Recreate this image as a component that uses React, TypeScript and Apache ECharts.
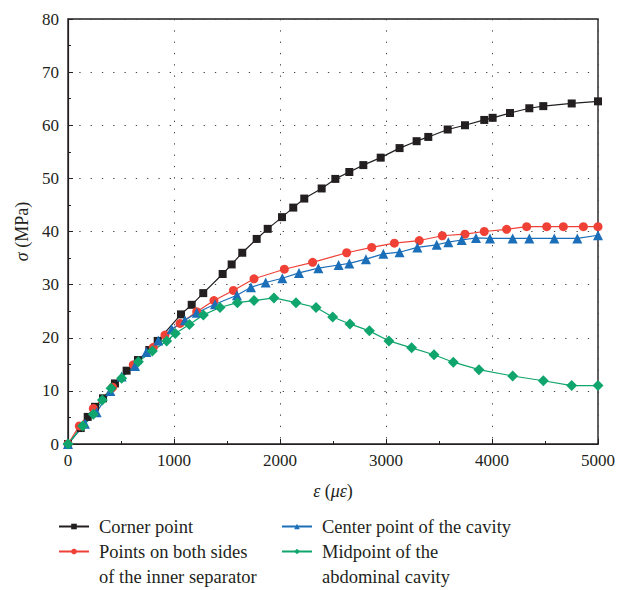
import React, { useEffect, useRef } from "react";
import * as echarts from "echarts";

const cornerX = [0, 120, 186, 255, 330, 443, 553, 660, 767, 846, 1066, 1167, 1276, 1459, 1544, 1644, 1780, 1884, 2019, 2125, 2229, 2393, 2522, 2654, 2786, 2950, 3128, 3289, 3399, 3582, 3745, 3927, 4006, 4170, 4352, 4484, 4752, 5000];
const cornerY = [0, 3.0, 5.1, 7.0, 8.6, 11.4, 13.8, 15.8, 17.7, 19.4, 24.4, 26.2, 28.4, 32.0, 33.8, 36.0, 38.6, 40.5, 42.7, 44.5, 46.2, 48.1, 49.9, 51.2, 52.5, 53.9, 55.7, 57.0, 57.8, 59.2, 60.0, 61.0, 61.4, 62.3, 63.2, 63.6, 64.1, 64.5];

const sidesX = [0, 107, 239, 421, 616, 805, 915, 1057, 1214, 1377, 1560, 1755, 2041, 2308, 2629, 2865, 3079, 3314, 3531, 3745, 3927, 4138, 4327, 4516, 4673, 4862, 5000];
const sidesY = [0, 3.4, 6.7, 10.7, 14.9, 18.2, 20.5, 22.7, 24.9, 27.0, 28.9, 31.1, 32.9, 34.2, 36.0, 37.0, 37.8, 38.3, 39.2, 39.5, 40.0, 40.4, 40.9, 40.9, 40.9, 40.9, 40.9];

const centerX = [0, 160, 270, 400, 506, 632, 740, 852, 978, 1104, 1214, 1387, 1594, 1726, 1865, 2022, 2179, 2362, 2553, 2654, 2811, 2975, 3128, 3296, 3478, 3588, 3714, 3849, 3981, 4195, 4352, 4588, 4805, 5000];
const centerY = [0, 3.8, 6.0, 10.0, 12.7, 14.7, 17.3, 19.5, 21.6, 23.3, 24.7, 26.3, 28.0, 29.5, 30.4, 31.2, 32.2, 33.1, 33.7, 34.0, 34.8, 35.8, 36.1, 37.0, 37.5, 38.0, 38.4, 38.8, 38.7, 38.7, 38.7, 38.7, 38.7, 39.3];

const midX = [0, 138, 239, 324, 406, 506, 664, 796, 931, 1012, 1145, 1277, 1434, 1598, 1755, 1943, 2151, 2340, 2497, 2660, 2843, 3028, 3242, 3453, 3635, 3877, 4195, 4484, 4752, 5000];
const midY = [0, 3.4, 5.6, 8.3, 10.5, 12.4, 15.5, 17.5, 19.4, 20.8, 22.5, 24.3, 25.7, 26.6, 27.0, 27.5, 26.6, 25.7, 23.9, 22.6, 21.3, 19.4, 18.1, 16.8, 15.4, 14.0, 12.8, 11.9, 11.0, 11.0];

const NAME_CORNER = "Corner point";
const NAME_SIDES = "Points on both sides\nof the inner separator";
const NAME_CENTER = "Center point of the cavity";
const NAME_MID = "Midpoint of the\nabdominal cavity";

const FONT = "Liberation Serif";

const zip = (xs: number[], ys: number[]) => xs.map((x, i) => [x, ys[i]]);

export default function App() {
  const ref = useRef<HTMLDivElement>(null);
  useEffect(() => {
    if (!ref.current) return;
    const chart = echarts.init(ref.current, null, { renderer: "svg" });
    const split = { show: true, lineStyle: { color: "#444", width: 1, type: [1.3, 10] as any } };
    const legendBase = (name: string, left: number, twoLine: boolean) => ({
      data: [name],
      left,
      top: 514,
      padding: 0,
      itemWidth: 30,
      itemHeight: 7,
      orient: "vertical",
      formatter: (n: string) => (twoLine ? "\n" + n : n),
      textStyle: {
        fontFamily: FONT,
        fontSize: 18.5,
        color: "#231f20",
        lineHeight: 25,
        padding: [0, 0, 0, 5],
      },
    });
    const mk = (name: string, xs: number[], ys: number[], color: string, symbol: string, size: number) => ({
      name,
      type: "line",
      data: zip(xs, ys),
      symbol,
      symbolSize: size,
      lineStyle: { color, width: 1.2 },
      itemStyle: { color },
      showSymbol: true,
    });
    const axisName = { fontFamily: FONT, fontSize: 18, color: "#231f20", rich: { i: { fontFamily: FONT, fontSize: 18, fontStyle: "italic", color: "#231f20" } } };
    chart.setOption({
      animation: false,
      grid: { left: 68, right: 20, top: 19, bottom: 146, show: true, borderColor: "#231f20", borderWidth: 1.4, backgroundColor: "transparent" },
      xAxis: {
        type: "value",
        min: 0,
        max: 5000,
        interval: 1000,
        name: "{i|ε} ({i|με})",
        nameLocation: "middle",
        nameGap: 38,
        nameTextStyle: axisName,
        axisLine: { show: true, lineStyle: { color: "#231f20", width: 1.2 } },
        axisTick: { show: true, inside: true, length: 5, lineStyle: { color: "#231f20" } },
        minorTick: { show: true, splitNumber: 2, length: 3, lineStyle: { color: "#231f20" } },
        axisLabel: { fontFamily: FONT, fontSize: 17, color: "#231f20", margin: 8, formatter: (v: number) => String(v) },
        splitLine: split,
      },
      yAxis: {
        type: "value",
        min: 0,
        max: 80,
        interval: 10,
        name: "{i|σ} (MPa)",
        nameLocation: "middle",
        nameGap: 33,
        nameTextStyle: axisName,
        axisLine: { show: true, lineStyle: { color: "#231f20", width: 1.2 } },
        axisTick: { show: true, inside: true, length: 5, lineStyle: { color: "#231f20" } },
        minorTick: { show: true, splitNumber: 2, length: 3, lineStyle: { color: "#231f20" } },
        axisLabel: { fontFamily: FONT, fontSize: 17, color: "#231f20", margin: 9, formatter: (v: number) => String(v) },
        splitLine: split,
      },
      legend: [
        legendBase(NAME_CORNER, 58, false),
        legendBase(NAME_SIDES, 58, true),
        legendBase(NAME_CENTER, 281, false),
        legendBase(NAME_MID, 281, true),
      ],
      series: [
        mk(NAME_CORNER, cornerX, cornerY, "#231f20", "rect", 8),
        mk(NAME_SIDES, sidesX, sidesY, "#ef4136", "circle", 9),
        mk(NAME_CENTER, centerX, centerY, "#1b6fb8", "triangle", 10),
        mk(NAME_MID, midX, midY, "#0fa56c", "diamond", 11),
      ],
    });
    return () => chart.dispose();
  }, []);
  return <div ref={ref} style={{ position: "absolute", left: 0, top: 0, width: 618, height: 590 }} />;
}
